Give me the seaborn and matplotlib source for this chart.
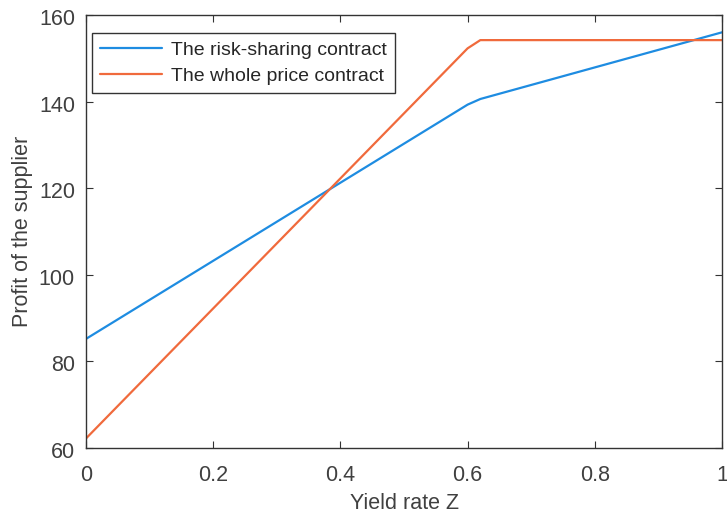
import matplotlib
matplotlib.use("Agg")
import matplotlib.pyplot as plt
import matplotlib.transforms as mtransforms
import seaborn as sns
import pandas as pd

# Data
risk_x = [0.0, 0.60, 0.62, 1.0]
risk_y = [85.2, 139.3, 140.6, 156.0]
whole_x = [0.0, 0.60, 0.62, 1.0]
whole_y = [62.2, 152.3, 154.2, 154.2]
series_names = ["The risk-sharing contract", "The whole price contract"]
x_ticks = [0, 0.2, 0.4, 0.6, 0.8, 1]
x_tick_labels = ["0", "0.2", "0.4", "0.6", "0.8", "1"]
y_ticks = [60, 80, 100, 120, 140, 160]

df = pd.concat([
    pd.DataFrame({"x": risk_x, "y": risk_y, "series": series_names[0]}),
    pd.DataFrame({"x": whole_x, "y": whole_y, "series": series_names[1]}),
], ignore_index=True)

sns.set_style("white")
plt.rcParams["font.family"] = ["Liberation Sans", "DejaVu Sans"]

TXT = "#404040"
fig = plt.figure(figsize=(7.27, 5.13), dpi=100)
ax = fig.add_axes([86 / 727, 1 - 448 / 513, 636 / 727, 433 / 513])

palette = {series_names[0]: "#1e8ce1", series_names[1]: "#f06a3c"}
sns.lineplot(data=df, x="x", y="y", hue="series", palette=palette,
             linewidth=1.6, ax=ax, sort=False, estimator=None)

ax.set_xlim(0, 1)
ax.set_ylim(60, 160)
ax.set_xticks(x_ticks)
ax.set_xticklabels(x_tick_labels)
ax.set_yticks(y_ticks)
ax.set_xlabel("Yield rate Z", fontsize=15.5, color=TXT, labelpad=5)
ax.set_ylabel("Profit of the supplier", fontsize=15.5, color=TXT, labelpad=4.5)
ax.tick_params(direction="in", length=5, width=0.8, colors="#333333",
               labelcolor=TXT, labelsize=15.5,
               top=True, right=True, left=True, bottom=True)
ax.tick_params(axis="x", pad=12)
ax.tick_params(axis="y", pad=8)
for lab in ax.get_yticklabels():
    lab.set_transform(lab.get_transform() +
                      mtransforms.ScaledTranslation(0, -2 / 100, fig.dpi_scale_trans))
for s in ax.spines.values():
    s.set_color("#333333")
    s.set_linewidth(1.0)

leg = ax.legend(loc="upper left", bbox_to_anchor=(0.0094, 0.958), fontsize=14,
                frameon=True, fancybox=False, handlelength=3.2,
                borderaxespad=0, borderpad=0.42, labelspacing=0.43,
                handletextpad=0.45, title=None)
leg.get_frame().set_edgecolor("#333333")
leg.get_frame().set_linewidth(1.0)
leg.get_frame().set_alpha(1)
for t in leg.get_texts():
    t.set_color("#262626")

fig.savefig("out.png", dpi=100)
